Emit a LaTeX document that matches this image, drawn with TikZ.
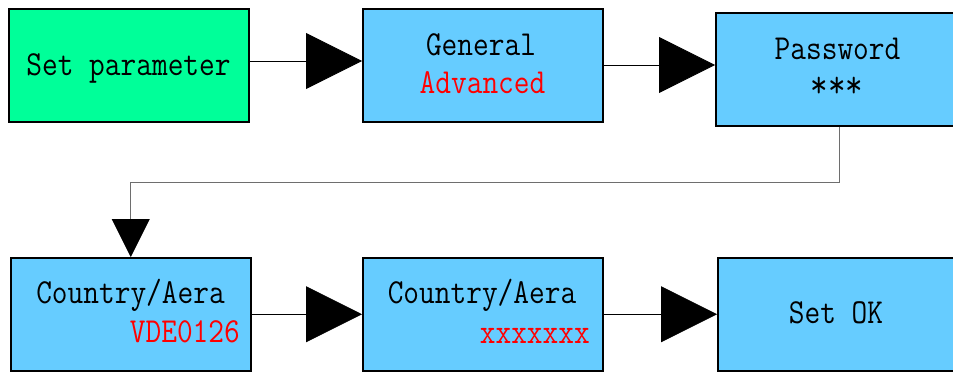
\documentclass[tikz,border=0pt]{standalone}
\usepackage{fontspec}
\usetikzlibrary{arrows.meta}
\definecolor{boxgreen}{HTML}{00FF99}
\definecolor{boxblue}{HTML}{66CCFF}
\definecolor{txtred}{HTML}{FF0000}
\definecolor{conngray}{HTML}{6E6E6E}
\newcommand{\tx}[1]{\scalebox{1}[1.15]{#1}}
\begin{document}
\begin{tikzpicture}[x=1pt,y=-1pt,
  box/.style={draw=black, line width=1.5pt, inner sep=0pt, anchor=north west},
  lbl/.style={font=\fontsize{30.5}{30.5}\selectfont\ttfamily, inner sep=0pt},
  conn/.style={line width=0.8pt, -{Triangle[length=56pt,width=56pt]}},
  connsmall/.style={line width=0.9pt, draw=conngray, -{Triangle[length=38pt,width=38pt,color=black]}},
]
\useasboundingbox (0,0) rectangle (953,372);
% boxes
\node[box, fill=boxgreen, minimum width=240pt, minimum height=113pt] (b1) at (8,8) {};
\node[box, fill=boxblue, minimum width=240pt, minimum height=113pt] (b2) at (362,8) {};
\node[box, fill=boxblue, minimum width=248pt, minimum height=113pt] (b3) at (715,12) {};
\node[box, fill=boxblue, minimum width=240pt, minimum height=113pt] (b4) at (10,257) {};
\node[box, fill=boxblue, minimum width=240pt, minimum height=113pt] (b5) at (362,257) {};
\node[box, fill=boxblue, minimum width=240pt, minimum height=113pt] (b6) at (717,257) {};
% texts
\node[lbl, anchor=base] (t1) at (128.5,75) {\tx{Set parameter}};
\node[lbl, anchor=base] (t2a) at (481,55) {\tx{General}};
\node[lbl, anchor=base, text=txtred] (t2b) at (482.5,93) {\tx{Advanced}};
\node[lbl, anchor=base] (t3a) at (837.5,59) {\tx{Password}};
\node[lbl, anchor=center, font=\fontsize{34}{34}\selectfont\ttfamily] (t3b) at (837,87) {\tx{***}};
\node[lbl, anchor=base] (t4a) at (130.5,303) {\tx{Country/Aera}};
\node[lbl, anchor=base east, text=txtred] (t4b) at (240,342) {\tx{VDE0126}};
\node[lbl, anchor=base] (t5a) at (482,303) {\tx{Country/Aera}};
\node[lbl, anchor=base east, text=txtred] (t5b) at (590,343) {\tx{xxxxxxx}};
\node[lbl, anchor=base] (t6) at (836,323) {\tx{Set OK}};
% connectors
\coordinate (r1) at (0,61);
\coordinate (r2) at (0,65);
\coordinate (bend) at (0,182);
\draw[conn] (b1.east |- r1) -- (b2.west |- r1);
\draw[conn] (b2.east |- r2) -- (b3.west |- r2);
\draw[connsmall] (b3.south) -- (b3.south |- bend) -- (b4.north |- bend) -- (b4.north);
\draw[conn] (b4.east) -- (b5.west);
\draw[conn] (b5.east) -- (b6.west);
\end{tikzpicture}
\end{document}
